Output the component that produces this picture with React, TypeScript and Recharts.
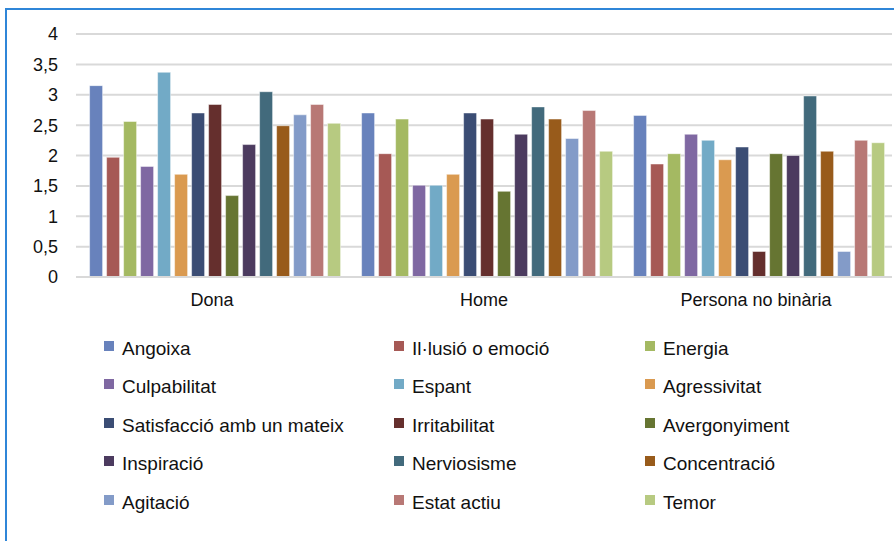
import { Bar, BarChart, CartesianGrid, XAxis, YAxis } from "recharts";

const GROUPS = ["Dona", "Home", "Persona no binària"];

const SERIES = [
  "Angoixa",
  "Il·lusió o emoció",
  "Energia",
  "Culpabilitat",
  "Espant",
  "Agressivitat",
  "Satisfacció amb un mateix",
  "Irritabilitat",
  "Avergonyiment",
  "Inspiració",
  "Nerviosisme",
  "Concentració",
  "Agitació",
  "Estat actiu",
  "Temor",
];

const COLORS = [
  "#6882bc",
  "#a65955",
  "#a4b962",
  "#7f68a2",
  "#72aac6",
  "#da9a50",
  "#3b4d74",
  "#652f2d",
  "#667532",
  "#4c3b5f",
  "#426a7c",
  "#985b1b",
  "#839bc8",
  "#b87875",
  "#b7ca81",
];

// values per group, same order as SERIES
const DONA = [3.15, 1.97, 2.56, 1.82, 3.37, 1.69, 2.7, 2.84, 1.34, 2.18, 3.05, 2.49, 2.67, 2.84, 2.53];
const HOME = [2.7, 2.03, 2.6, 1.51, 1.51, 1.69, 2.7, 2.6, 1.41, 2.35, 2.8, 2.6, 2.28, 2.74, 2.07];
const NO_BINARIA = [2.66, 1.86, 2.03, 2.35, 2.25, 1.93, 2.14, 0.42, 2.03, 2.0, 2.98, 2.07, 0.42, 2.25, 2.21];

const Y_TICKS = [0, 0.5, 1, 1.5, 2, 2.5, 3, 3.5, 4];

const FONT = "'Liberation Sans', Arial, sans-serif";
const GRID = "#d9d9d9";

const data = GROUPS.map((g, gi) => {
  const vals = [DONA, HOME, NO_BINARIA][gi];
  const row: Record<string, string | number> = { group: g };
  SERIES.forEach((s, i) => {
    row[`s${i}`] = vals[i];
  });
  return row;
});

const LEGEND_COL_X = [104, 394, 645];
const LEGEND_ROW_Y = [349, 387, 426, 464, 503];

function LegendBlock() {
  return (
    <>
      {SERIES.map((s, i) => {
        const col = i % 3;
        const row = Math.floor(i / 3);
        return (
          <div
            key={s}
            style={{
              position: "absolute",
              left: LEGEND_COL_X[col],
              top: LEGEND_ROW_Y[row] - 11,
              height: 22,
              display: "flex",
              alignItems: "center",
              fontFamily: FONT,
              fontSize: 19,
              color: "#111",
              whiteSpace: "nowrap",
            }}
          >
            <span
              style={{
                display: "inline-block",
                width: 10,
                height: 10,
                background: COLORS[i],
                marginRight: 8,
                marginTop: -6,
              }}
            />
            {s}
          </div>
        );
      })}
    </>
  );
}

export default function App() {
  return (
    <div
      style={{
        position: "absolute",
        left: 0,
        top: 0,
        width: 894,
        height: 541,
        overflow: "hidden",
        background: "#fff",
      }}
    >
      <div
        style={{
          position: "absolute",
          left: 5,
          top: 8,
          width: 1000,
          height: 1000,
          borderLeft: "2px solid #2f86d8",
          borderTop: "2px solid #2f86d8",
        }}
      />
      <div style={{ position: "absolute", left: 0, top: 0 }}>
        <BarChart
          width={894}
          height={320}
          data={data}
          margin={{ top: 34, right: 2, bottom: 13, left: 0 }}
          barCategoryGap="5%"
          barGap={4}
        >
          <CartesianGrid stroke={GRID} strokeWidth={2} vertical={false} />
          <XAxis
            dataKey="group"
            tickLine={false}
            axisLine={{ stroke: GRID, strokeWidth: 2 }}
            tick={{ fill: "#111", fontSize: 18, fontFamily: FONT }}
            tickMargin={10}
          />
          <YAxis
            domain={[0, 4]}
            ticks={Y_TICKS}
            tickFormatter={(v: number) => String(v).replace(".", ",")}
            tickLine={false}
            axisLine={false}
            tick={{ fill: "#111", fontSize: 18, fontFamily: FONT }}
            tickMargin={12}
            width={76}
          />
          {SERIES.map((s, i) => (
            <Bar
              key={s}
              dataKey={`s${i}`}
              name={s}
              fill={COLORS[i]}
              stroke="#ffffff"
              strokeOpacity={0.6}
              strokeWidth={0.8}
              isAnimationActive={false}
            />
          ))}
        </BarChart>
      </div>
      <LegendBlock />
    </div>
  );
}
